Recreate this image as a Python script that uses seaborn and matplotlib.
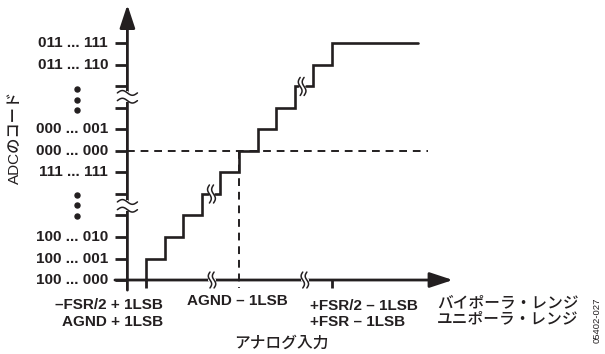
import numpy as np
import matplotlib.pyplot as plt
import seaborn as sns

sns.set_style('white')
plt.rcParams['font.family'] = ['Liberation Sans', 'Noto Sans CJK JP', 'DejaVu Sans']

# ADC output codes (one per LSB step, bottom to top); blank = tick with no label
code_labels = ['100 ... 000', '100 ... 001', '100 ... 010', '', '',
               '111 ... 111', '000 ... 000', '000 ... 001', '', '',
               '011 ... 110', '011 ... 111']
code_levels = list(range(len(code_labels)))
# analog input (in LSB) where the code goes up by one
step_x = [1, 2, 3, 4, 5, 6, 7, 8, 9, 10, 11]
last_x = 15.6
# breaks in the staircase: level, gap start, gap end, squiggle positions
stair_breaks = [(4, 4.33, 4.71, (4.41, 4.63)), (9, 9.15, 9.62, (9.29, 9.50))]
x_axis_breaks = [4.55, 9.54]
y_axis_breaks = [3.45, 8.52]
dot_rows = [[8.88, 8.38, 7.90], [3.95, 3.47, 2.98]]
mid_x = 6
mid_code = 6

x_tick_pos = [1, 6, 11]
bipolar_labels = ['\u2013FSR/2 + 1LSB', 'AGND \u2013 1LSB', '+FSR/2 \u2013 1LSB']
unipolar_labels = ['AGND + 1LSB', '', '+FSR \u2013 1LSB']

k = '#231f20'
fs = 11
fig = plt.figure(figsize=(6.05, 3.54), dpi=100)
ax = fig.add_axes([0, 0, 1, 1])
ax.set_xlim(-6.85, 25.68)
ax.set_ylim(-3.44, 13.02)
ax.axis('off')

# staircase
segments = [[(step_x[0], 0)]]
for i, xk in enumerate(step_x):
    lvl = i + 1
    nxt = step_x[i + 1] if i + 1 < len(step_x) else last_x
    segments[-1].append((xk, lvl))
    for b in stair_breaks:
        if b[0] == lvl:
            segments[-1].append((b[1], lvl))
            segments.append([(b[2], lvl)])
    segments[-1].append((nxt, lvl))
for seg in segments:
    sx, sy = zip(*seg)
    sns.lineplot(x=list(sx), y=list(sy), sort=False, estimator=None, ax=ax,
                 color=k, lw=1.9, solid_joinstyle='miter', zorder=3)

t = np.linspace(0, 1, 40)


def v_squiggle(x0, y0, h, amp):
    ax.plot(x0 + amp * np.sin(2 * np.pi * t), y0 + h * (t - 0.5), color=k, lw=1.1, zorder=5)


def h_squiggle(x0, y0, w, amp):
    ax.plot(x0 + w * (t - 0.5), y0 + amp * np.sin(2 * np.pi * t), color=k, lw=1.1, zorder=5)


for b in stair_breaks:
    for sxp in b[3]:
        v_squiggle(sxp, b[0], 0.84, 0.1)

# axes with arrows
ax.annotate('', xy=(17.5, 0), xytext=(-0.67, 0),
            arrowprops=dict(arrowstyle='-|>,head_length=1.0,head_width=0.33',
                            mutation_scale=14, lw=2, color=k, shrinkA=0, shrinkB=0))
ax.annotate('', xy=(0, 12.8), xytext=(0, -0.47),
            arrowprops=dict(arrowstyle='-|>,head_length=1.0,head_width=0.33',
                            mutation_scale=14, lw=2, color=k, shrinkA=0, shrinkB=0))

# y ticks and labels
for lvl, lab in zip(code_levels, code_labels):
    ax.plot([-0.65, 0], [lvl, lvl], color=k, lw=2, solid_capstyle='butt')
    if lab:
        ax.text(-1.04, lvl, lab, ha='right', va='center', fontsize=fs,
                fontweight='bold', color=k)

for row in dot_rows:
    ax.plot([-2.71] * len(row), row, 'o', color=k, ms=3.6)

# x ticks
for xp in x_tick_pos:
    if xp != mid_x:
        ax.plot([xp, xp], [0, -0.37], color=k, lw=2, solid_capstyle='butt')

# axis breaks
for xb in x_axis_breaks:
    ax.plot([xb - 0.1, xb + 0.1], [0, 0], color='white', lw=3, zorder=4)
    for off in (-0.11, 0.11):
        v_squiggle(xb + off, 0, 0.74, 0.09)
for yb in y_axis_breaks:
    ax.plot([0, 0], [yb - 0.17, yb + 0.17], color='white', lw=3, zorder=4)
    for off in (-0.18, 0.18):
        h_squiggle(0, yb + off, 1.08, 0.11)

# dashed mid-scale lines
ax.plot([0, 16.16], [mid_code, mid_code], color=k, lw=1.4, ls=(0, (4, 3)), zorder=2)
ax.plot([mid_x, mid_x], [mid_code, -0.37], color=k, lw=1.4, ls=(0, (4, 3)), zorder=2)

# x labels
ax.text(1.91, -1.16, bipolar_labels[0], ha='right', va='center', fontsize=fs, fontweight='bold', color=k)
ax.text(1.91, -1.95, unipolar_labels[0], ha='right', va='center', fontsize=fs, fontweight='bold', color=k)
ax.text(5.92, -0.98, bipolar_labels[1], ha='center', va='center', fontsize=fs, fontweight='bold', color=k)
ax.text(9.82, -1.21, bipolar_labels[2], ha='left', va='center', fontsize=fs, fontweight='bold', color=k)
ax.text(9.82, -1.95, unipolar_labels[2], ha='left', va='center', fontsize=fs, fontweight='bold', color=k)
ax.text(16.64, -1.07, 'バイポーラ・レンジ', ha='left', va='center', fontsize=11.3, fontweight='medium', color=k)
ax.text(16.64, -1.81, 'ユニポーラ・レンジ', ha='left', va='center', fontsize=11.3, fontweight='medium', color=k)
ax.text(8.26, -2.93, 'アナログ入力', ha='center', va='center', fontsize=11.3, fontweight='medium', color=k)
ax.text(-6.04, 6.65, 'ADCのコード', ha='center', va='center', rotation=90, fontsize=11,
        fontweight='medium', color=k)
ax.text(25.25, -1.86, '05402-027', ha='center', va='center', rotation=90, fontsize=6.8, color=k)

fig.savefig('out.png', dpi=100)
